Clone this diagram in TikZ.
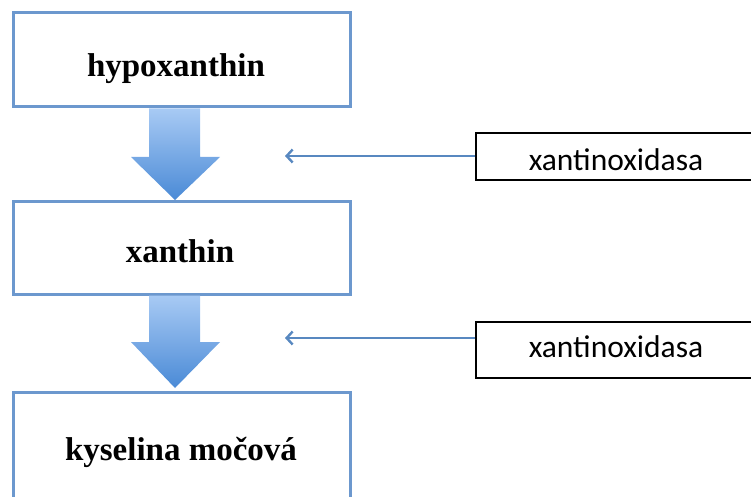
\documentclass[tikz,border=0pt]{standalone}
\usepackage{fontspec}
\usetikzlibrary{arrows.meta}
\setmainfont{Liberation Serif}
\newfontfamily\calfont{Carlito}
\definecolor{boxblue}{RGB}{108,152,206}
\definecolor{thinblue}{RGB}{88,136,192}
\definecolor{arrtop}{RGB}{168,202,244}
\definecolor{arrbot}{RGB}{74,138,214}
\begin{document}
\begin{tikzpicture}[x=1pt,y=-1pt,
  stepbox/.style={draw=boxblue, line width=3pt, fill=white, rectangle, inner sep=0pt},
  enzbox/.style={draw=black, line width=1.8pt, fill=white, rectangle, inner sep=0pt},
  lbl/.style={font=\fontsize{33}{36}\selectfont\bfseries, anchor=base, inner sep=0pt},
  elbl/.style={font=\calfont\fontsize{31.5}{34}\selectfont, anchor=base, inner sep=0pt},
  thinarr/.style={draw=thinblue, line width=2.4pt, -{Straight Barb[length=6pt,width=13pt]}},
]
\useasboundingbox (0,0) rectangle (751,497);
\clip (0,0) rectangle (751,497);
% boxes
\node[stepbox, minimum width=337pt, minimum height=94pt] (b1) at (181.5,60) {};
\node[stepbox, minimum width=337pt, minimum height=93pt] (b2) at (181.5,247.5) {};
\node[stepbox, minimum width=337pt, minimum height=120pt] (b3) at (181.5,452) {};
% labels
\node[lbl] (t1) at (176,77) {hypoxanthin};
\node[lbl] (t2) at (180,262) {xanthin};
\node[lbl] (t3) at (181,460) {kyselina močová};
% block arrows
\shade[top color=arrtop, bottom color=arrbot]
  (149,108.5) -- (200,108.5) -- (200,157) -- (220,157) -- (175,200) -- (131,157) -- (149,157) -- cycle;
\shade[top color=arrtop, bottom color=arrbot]
  (149,295.5) -- (200,295.5) -- (200,342) -- (220,342) -- (175,388) -- (131,342) -- (149,342) -- cycle;
\coordinate (c1) at (175,200);
\coordinate (c2) at (175,388);
% enzyme boxes
\node[enzbox, minimum width=300pt, minimum height=47pt, anchor=north west] (e1) at (475,132) {};
\node[enzbox, minimum width=300pt, minimum height=56pt, anchor=north west] (e2) at (475,321) {};
\node[elbl] (et1) at (616,170) {xantinoxidasa};
\node[elbl] (et2) at (616,357) {xantinoxidasa};
% thin arrows
\coordinate (p1) at (285,156);
\coordinate (p2) at (285,338);
\draw[thinarr] (e1.west |- p1) -- (p1);
\draw[thinarr] (e2.west |- p2) -- (p2);
\end{tikzpicture}
\end{document}
